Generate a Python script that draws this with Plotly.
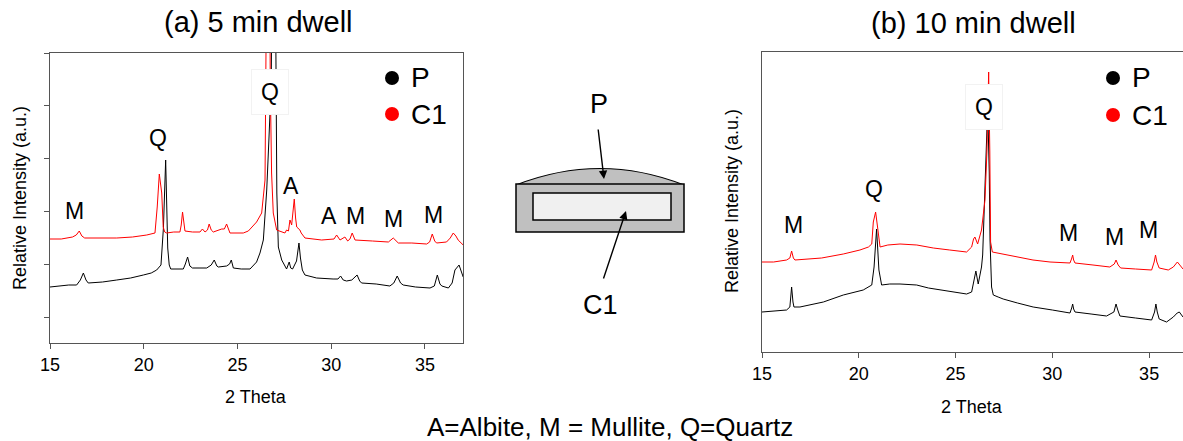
import plotly.graph_objects as go

# ---------------- data (2 Theta, relative intensity a.u.) ----------------
# (a) 5 min dwell, P (black)
a_p_x = [15.0, 15.5, 16.0, 16.42, 16.62, 16.78, 16.92, 17.04, 17.8, 18.56, 19.3, 19.98, 20.4, 20.69, 20.92,
         21.05, 21.17, 21.28, 21.36, 21.44, 21.8, 22.11, 22.22, 22.34, 22.46, 22.6, 23.0, 23.36, 23.6, 23.76,
         23.9, 23.98, 24.42, 24.58, 24.67, 24.78, 25.2, 25.67, 26.02, 26.2, 26.38, 26.56, 26.68, 26.80, 26.94,
         27.06, 27.1, 27.18, 27.36, 27.62, 27.76, 27.84, 27.94, 28.15, 28.28, 28.36, 28.46, 28.6, 29.22, 30.1,
         30.36, 30.5, 30.64, 30.82, 31.1, 31.38, 31.52, 31.62, 32.4, 33.13, 33.34, 33.52, 33.7, 33.84, 34.5,
         35.27, 35.5, 35.66, 35.8, 35.9, 36.25, 36.45, 36.6, 36.82, 36.95, 37.04]
a_p_y = [56, 57, 58, 58, 63, 70, 63, 60, 61, 63, 65, 68, 70, 73, 78,
         115, 183, 95, 78, 74, 74, 74, 79, 86, 77, 75, 75, 75, 78, 83,
         77, 76, 77, 79, 83, 75, 74, 74, 81, 90, 103, 153, 205, 260, 600,
         260, 150, 96, 83, 74, 81, 75, 74, 82, 100, 85, 73, 68, 65, 64,
         64, 67, 63, 62, 63, 68, 62, 60, 59, 57, 60, 67, 60, 58, 56,
         55, 57, 68, 59, 57, 55, 60, 73, 78, 72, 66]

# (a) 5 min dwell, C1 (red)
a_c_x = [15.0, 15.6, 16.2, 16.4, 16.56, 16.7, 16.85, 17.5, 18.56, 19.4, 20.16, 20.6, 20.72, 20.83, 20.9,
         20.96, 21.04, 21.12, 21.22, 21.6, 21.93, 22.0, 22.07, 22.14, 22.2, 22.6, 23.0, 23.13, 23.27, 23.4,
         23.49, 23.6, 23.71, 24.16, 24.3, 24.42, 24.52, 24.6, 25.31, 25.58, 26.02, 26.29, 26.47, 26.54, 26.645,
         26.75, 26.82, 26.91, 27.09, 27.53, 27.62, 27.72, 27.8, 27.89, 27.96, 28.03, 28.1, 28.16, 28.33, 28.4,
         28.6, 29.49, 30.15, 30.29, 30.47, 30.73, 30.88, 31.0, 31.12, 31.27, 32.2, 33.05, 33.31, 33.58, 34.3,
         35.09, 35.25, 35.39, 35.52, 35.62, 36.15, 36.35, 36.51, 36.65, 36.77, 37.04]
a_c_y = [104, 104, 106, 108, 112, 107, 105, 105, 105, 106, 108, 110, 136, 169, 160,
         150, 116, 111, 110, 111, 111, 118, 131, 118, 112, 111, 111, 114, 111, 113,
         119, 113, 111, 114, 114, 119, 113, 110, 110, 112, 121, 130, 163, 260, 600,
         260, 170, 130, 113, 110, 113, 112, 123, 118, 130, 144, 125, 116, 113, 110,
         105, 103, 104, 108, 103, 106, 102, 104, 110, 103, 102, 101, 105, 100, 100,
         99, 101, 109, 102, 100, 101, 105, 110, 107, 103, 98]

# (b) 10 min dwell, P (black)
b_p_x = [15.0, 15.6, 16.27, 16.44, 16.53, 16.6, 16.65, 16.96, 17.5, 18.17, 19.2, 19.8, 20.23, 20.67, 20.79,
         20.92, 21.04, 21.18, 21.6, 22.13, 22.99, 23.6, 24.19, 25.0, 25.57, 25.83, 25.96, 26.05, 26.17, 26.28,
         26.34, 26.4, 26.52, 26.6, 26.66, 26.74, 26.78, 26.86, 26.95, 27.2, 27.46, 28.2, 29.01, 30.0, 30.91,
         31.0, 31.05, 31.1, 31.17, 32.0, 32.8, 33.18, 33.29, 33.38, 33.49, 34.3, 35.13, 35.28, 35.35, 35.42,
         35.52, 35.9, 36.25, 36.45, 36.56, 36.75]
b_p_y = [40, 41, 42, 45, 65, 50, 45, 45, 47, 50, 57, 60, 62, 67, 85,
         123, 82, 67, 68, 68, 67, 64, 62, 60, 58, 60, 72, 81, 68, 78,
         85, 97, 162, 200, 245, 180, 112, 65, 57, 55, 53, 49, 45, 42, 39,
         44, 48, 43, 40, 38, 36, 40, 48, 42, 36, 34, 32, 40, 48, 40,
         33, 30, 35, 39, 40, 35]

# (b) 10 min dwell, C1 (red)
b_c_x = [15.0, 15.6, 16.27, 16.44, 16.53, 16.62, 16.7, 17.3, 18.08, 19.2, 20.06, 20.5, 20.67, 20.75, 20.87,
         20.97, 21.1, 21.5, 22.13, 23.0, 23.85, 24.7, 25.57, 25.83, 25.93, 26.0, 26.14, 26.34, 26.52, 26.62,
         26.71, 26.77, 26.81, 26.9, 27.4, 28.16, 29.0, 29.88, 30.91, 30.99, 31.05, 31.1, 31.17, 32.1, 32.97,
         33.2, 33.29, 33.4, 33.53, 34.3, 35.13, 35.26, 35.33, 35.4, 35.52, 35.99, 36.25, 36.46, 36.6, 36.75]
b_c_y = [90, 90, 92, 94, 101, 94, 92, 93, 94, 98, 102, 105, 108, 130, 140,
         125, 105, 107, 108, 107, 104, 102, 100, 105, 113, 115, 108, 122, 152, 200,
         280, 200, 110, 100, 98, 95, 92, 90, 89, 93, 97, 92, 89, 87, 85,
         88, 92, 87, 84, 83, 82, 90, 97, 90, 84, 82, 85, 90, 86, 83]

# phase labels (label, 2 Theta, intensity)
a_lbl = ["M", "Q", "A", "A", "M", "M", "M"]
a_lbl_x = [16.33, 20.78, 27.84, 29.88, 31.27, 33.31, 35.44]
a_lbl_y = [132, 205, 157, 127, 127, 124, 128]
b_lbl = ["M", "Q", "M", "M", "M"]
b_lbl_x = [16.65, 20.79, 30.86, 33.2, 34.99]
b_lbl_y = [127, 163, 119, 115, 122]
# main quartz label (boxed)
a_main_q = (26.73, 251)
b_main_q = (26.47, 245)

series_names = ["P", "C1"]
series_colors = ["#000000", "#ff0000"]

W, H = 1183, 441
FONT = "Arial, Liberation Sans, sans-serif"


def px(x):
    return x / W


def py(y):
    return 1 - y / H


fig = go.Figure()
fig.add_trace(go.Scatter(x=a_p_x, y=a_p_y, mode="lines", line=dict(color=series_colors[0], width=1),
                         xaxis="x", yaxis="y", showlegend=False, name="P"))
fig.add_trace(go.Scatter(x=a_c_x, y=a_c_y, mode="lines", line=dict(color=series_colors[1], width=1),
                         xaxis="x", yaxis="y", showlegend=False, name="C1"))
fig.add_trace(go.Scatter(x=b_p_x, y=b_p_y, mode="lines", line=dict(color=series_colors[0], width=1),
                         xaxis="x2", yaxis="y2", showlegend=False, name="P"))
fig.add_trace(go.Scatter(x=b_c_x, y=b_c_y, mode="lines", line=dict(color=series_colors[1], width=1),
                         xaxis="x2", yaxis="y2", showlegend=False, name="C1"))

axcol = "#555555"
common_x = dict(showgrid=False, zeroline=False, showline=True, linecolor=axcol, linewidth=1.2,
                ticks="outside", ticklen=5, tickcolor=axcol, tick0=15, dtick=5, automargin=False,
                tickfont=dict(family=FONT, size=18, color="#000"))
fig.update_layout(
    width=W, height=H, margin=dict(l=0, r=0, t=0, b=0, autoexpand=False),
    paper_bgcolor="white", plot_bgcolor="white",
    xaxis=dict(domain=[px(50), px(463)], range=[15, 37.03], anchor="y", mirror=True, **common_x),
    yaxis=dict(domain=[py(343), py(53)], range=[0, 290], anchor="x", showgrid=False, zeroline=False,
               showline=True, linecolor=axcol, linewidth=1.2, mirror=True, ticks="outside", ticklen=5,
               tickcolor=axcol, tick0=26, dtick=52.8, showticklabels=False, automargin=False),
    xaxis2=dict(domain=[px(762), 1.0], range=[15, 36.75], anchor="y2", mirror=True, **common_x),
    yaxis2=dict(domain=[py(352), py(52)], range=[0, 300], anchor="x2", showgrid=False, zeroline=False,
                showline=True, linecolor=axcol, linewidth=1.2, mirror=False, ticks="",
                showticklabels=False, automargin=False),
)

ann = []
# phase labels
for t, x, y in zip(a_lbl, a_lbl_x, a_lbl_y):
    ann.append(dict(text=t, x=x, y=y, xref="x", yref="y", showarrow=False, xanchor="center", yanchor="middle",
                    font=dict(family=FONT, size=23, color="#000")))
for t, x, y in zip(b_lbl, b_lbl_x, b_lbl_y):
    ann.append(dict(text=t, x=x, y=y, xref="x2", yref="y2", showarrow=False, xanchor="center", yanchor="middle",
                    font=dict(family=FONT, size=23, color="#000")))
ann.append(dict(text="Q", x=a_main_q[0], y=a_main_q[1], xref="x", yref="y", showarrow=False,
                xanchor="center", yanchor="middle",
                bgcolor="white", borderpad=9, bordercolor="#f2f2f2", borderwidth=1,
                font=dict(family=FONT, size=23, color="#000")))
ann.append(dict(text="Q", x=b_main_q[0], y=b_main_q[1], xref="x2", yref="y2", showarrow=False,
                xanchor="center", yanchor="middle",
                bgcolor="white", borderpad=9, bordercolor="#f2f2f2", borderwidth=1,
                font=dict(family=FONT, size=23, color="#000")))

# legends (dot + label)
shapes = []
for cx, ys in [(392, (78, 114)), (1113, (78, 115))]:
    for i, yy in enumerate(ys):
        shapes.append(dict(type="circle", xref="paper", yref="paper", xsizemode="pixel", ysizemode="pixel",
                           xanchor=px(cx), yanchor=py(yy), x0=-7, x1=7, y0=-7, y1=7,
                           fillcolor=series_colors[i], line=dict(width=0)))
        ann.append(dict(text=series_names[i], x=px(cx + 17), y=py(yy), xref="paper", yref="paper",
                        xanchor="left", yanchor="middle", showarrow=False,
                        font=dict(family=FONT, size=28, color="#000")))


def label(text, x, y, size, angle=0):
    ann.append(dict(text=text, x=px(x), y=py(y), xref="paper", yref="paper", showarrow=False,
                    xanchor="center", yanchor="middle", textangle=angle,
                    font=dict(family=FONT, size=size, color="#000")))


# titles
label("(a) 5 min dwell", 258, 22, 29)
label("(b) 10 min dwell", 973, 23, 29)
label("2 Theta", 256, 397, 18)
label("2 Theta", 972, 407, 18)
label("Relative Intensity (a.u.)", 20, 198, 18, -90)
label("Relative Intensity (a.u.)", 732, 201, 18, -90)
label("A=Albite, M = Mullite, Q=Quartz", 610, 427, 26)

# sample schematic
dome = "M {},{} Q {},{} {},{} Z".format(px(516), py(185), px(600), py(152), px(684), py(185))
shapes.append(dict(type="path", xref="paper", yref="paper", path=dome, fillcolor="#c0c0c0",
                   line=dict(color="#000", width=1.2)))
shapes.append(dict(type="rect", xref="paper", yref="paper", x0=px(516), x1=px(684), y0=py(232), y1=py(184),
                   fillcolor="#c0c0c0", line=dict(color="#000", width=1.5)))
shapes.append(dict(type="rect", xref="paper", yref="paper", x0=px(533), x1=px(671), y0=py(220), y1=py(193),
                   fillcolor="#f0f0f0", line=dict(color="#000", width=1.5)))
label("P", 599, 104, 27)
label("C1", 601, 305, 27)
ann.append(dict(text="", x=px(604), y=py(179), xref="paper", yref="paper", showarrow=True,
                ax=-6, ay=-51, arrowhead=2, arrowsize=1.2, arrowwidth=1.4, arrowcolor="#000"))
ann.append(dict(text="", x=px(626), y=py(211), xref="paper", yref="paper", showarrow=True,
                ax=-23, ay=69, arrowhead=2, arrowsize=1.2, arrowwidth=1.4, arrowcolor="#000"))

fig.update_layout(annotations=ann, shapes=shapes)
fig.write_html("out.html", config={"displayModeBar": False},
               post_script="document.body.style.margin='0';")
